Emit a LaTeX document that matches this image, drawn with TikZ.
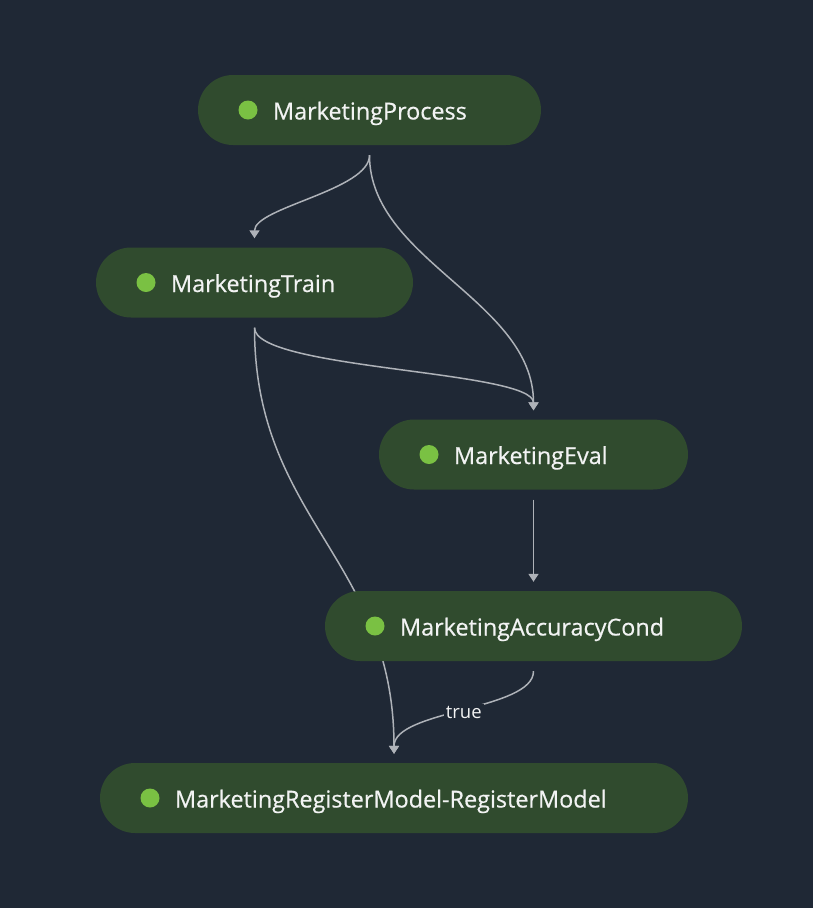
\documentclass[tikz,border=0pt]{standalone}
\usepackage{fontspec}
\setmainfont{Open Sans}
\newfontfamily\pillfont{Open Sans}[FakeBold=0.5]
\usetikzlibrary{arrows.meta}
\definecolor{canvas}{HTML}{1F2835}
\definecolor{pillgreen}{HTML}{304B2E}
\definecolor{dotgreen}{HTML}{7AC143}
\definecolor{edgegray}{HTML}{AEB2B8}
\definecolor{labelwhite}{HTML}{F2F3F3}
\pgfdeclarelayer{canvaslayer}
\pgfdeclarelayer{edgelayer}
\pgfsetlayers{canvaslayer,edgelayer,main}
\tikzset{
    pill/.style={fill=pillgreen, rounded corners=35pt, minimum height=70pt,
      inner xsep=0pt, inner ysep=0pt, text width=#1, align=left, text=labelwhite,
      text height=23pt, text depth=4pt,
      font=\pillfont\fontsize{23.4}{26}\selectfont,
      path picture={\fill[dotgreen] ([xshift=50pt]path picture bounding box.west) circle (9.5pt);}},
    flow/.style={draw=edgegray, line width=1.5pt, -{Triangle[width=10pt,length=8pt]},
      shorten <=10pt, shorten >=9pt},
    edgelbl/.style={fill=canvas, text=labelwhite, font=\fontsize{18.5}{20}\selectfont,
      inner sep=2pt, yshift=-2pt},
  }

\begin{document}
\begin{tikzpicture}[x=1pt,y=-1pt]
	%fond
	\begin{pgfonlayer}{canvaslayer}
	  \fill[canvas] (0,0) rectangle (813,908);
	\end{pgfonlayer}
	%etapes
	\node[pill=343pt] (process) at (369.5,110) {\hspace*{75pt}MarketingProcess};
	\node[pill=317pt] (train) at (254.5,282.5) {\hspace*{75pt}MarketingTrain};
	\node[pill=309pt] (eval) at (533.5,454.5) {\hspace*{75pt}MarketingEval};
	\node[pill=417pt] (acc) at (533.5,626) {\hspace*{75pt}MarketingAccuracyCond};
	\node[pill=588pt] (register) at (394,798) {\hspace*{75pt}MarketingRegisterModel-RegisterModel};
	%liens
	\begin{pgfonlayer}{edgelayer}
	  \draw[flow] (process.south) .. controls +(0,45) and +(0,-40) .. (train.north);
	  \draw[flow] (process.south) .. controls +(0,115) and +(0,-119) .. (eval.north);
	  \draw[flow] (train.south) .. controls +(0,52) and +(0,-49) .. (eval.north);
	  \draw[flow] (train.south) .. controls +(0,202) and +(0,-203) .. (register.north);
	  \draw[flow] (eval.south) -- (acc.north);
	  \draw[flow] (acc.south) .. controls +(0,49) and +(0,-53) .. node[edgelbl] (truelbl) {true} (register.north);
	\end{pgfonlayer}
\end{tikzpicture}
\end{document}
